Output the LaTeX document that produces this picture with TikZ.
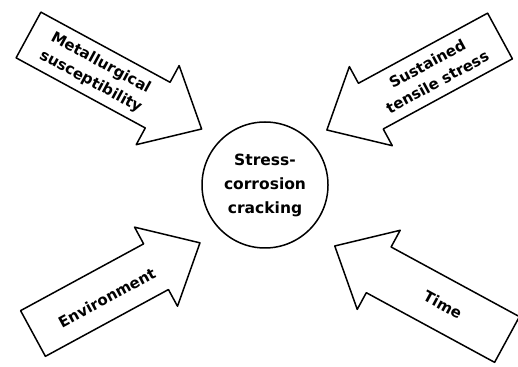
\documentclass[tikz,border=0pt]{standalone}
\usepackage{fontspec}
\setmainfont{DejaVu Sans}
\begin{document}
\begin{tikzpicture}[x=1pt,y=1pt,
  arrowbox/.style={draw=black, line width=1.5pt, fill=white, line join=round},
  lbl/.style={font=\bfseries\fontsize{15}{21}\selectfont, align=center, inner sep=0pt},
]
\useasboundingbox (0,0) rectangle (518,366);
\clip (0,0) rectangle (518,366);
% centre
\node[draw, circle, line width=1.5pt, minimum size=126pt, inner sep=0pt,
      font=\bfseries\fontsize{15.5}{24}\selectfont, align=center] (scc) at (265,181)
      {Stress-\\corrosion\\cracking};
% top left
\begin{scope}[shift={(28.5,331)}, rotate=-28.5]
  \draw[arrowbox] (0,26) -- (147,26) -- (147,45) -- (197,0) -- (147,-45) -- (147,-26) -- (0,-26) -- cycle;
  \node[lbl, rotate=-28.5] (metal) at (77,-1) {Metallurgical\\susceptibility};
\end{scope}
% top right
\begin{scope}[shift={(500,330)}, rotate=208.5]
  \draw[arrowbox] (0,26) -- (147,26) -- (147,45) -- (197,0) -- (147,-45) -- (147,-26) -- (0,-26) -- cycle;
  \node[lbl, rotate=28.5] (stress) at (77,0) {Sustained\\tensile stress};
\end{scope}
% bottom left
\begin{scope}[shift={(33,32.5)}, rotate=28.5]
  \draw[arrowbox] (0,26) -- (140,26) -- (140,45) -- (190,0) -- (140,-45) -- (140,-26) -- (0,-26) -- cycle;
  \node[lbl, rotate=28.5] (env) at (82,-4) {Environment};
\end{scope}
% bottom right
\begin{scope}[shift={(507,26.5)}, rotate=151.5]
  \draw[arrowbox] (0,26) -- (146,26) -- (146,45) -- (196,0) -- (146,-45) -- (146,-26) -- (0,-26) -- cycle;
  \node[lbl, rotate=-28.5] (time) at (73,0) {Time};
\end{scope}
\end{tikzpicture}
\end{document}
